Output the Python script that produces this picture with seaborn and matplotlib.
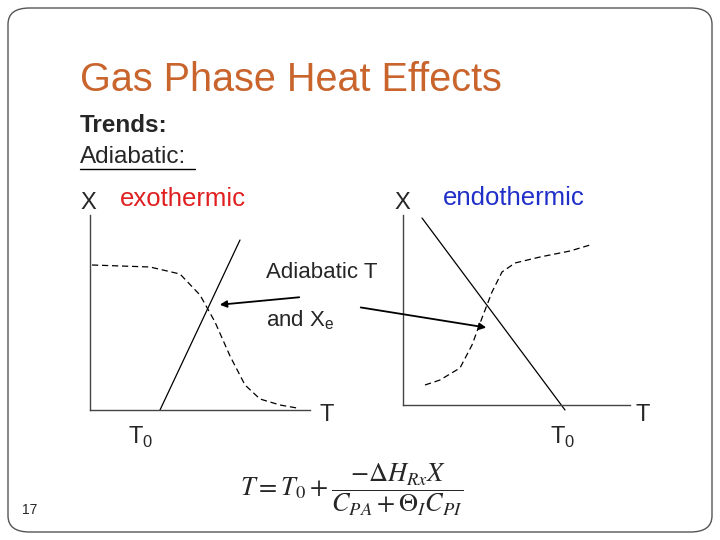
import matplotlib
matplotlib.use("Agg")
import matplotlib.pyplot as plt
import seaborn as sns
from matplotlib.patches import FancyBboxPatch

sns.set_style("white")
plt.rcParams['font.family'] = ['Liberation Sans', 'DejaVu Sans']

# data (pixel-like units)
exo_eq_x = [92, 150, 180, 200, 215, 230, 245, 260, 280, 297]
exo_eq_y = [265, 267, 274, 295, 322, 356, 385, 399, 405, 408]
exo_ad_x = [160, 240]
exo_ad_y = [410, 240]
endo_eq_x = [425, 440, 460, 472, 482, 492, 502, 515, 540, 570, 590]
endo_eq_y = [385, 380, 368, 345, 318, 292, 272, 263, 257, 251, 245]
endo_ad_x = [422, 565]
endo_ad_y = [218, 410]

W, H = 720, 540
fig = plt.figure(figsize=(7.2, 5.4), dpi=100)

def fx(x): return x / W
def fy(y): return 1 - y / H

fig.patches.append(FancyBboxPatch((fx(8), fy(532)), fx(704), 524 / H,
                                  boxstyle="round,pad=0,rounding_size=0.03",
                                  transform=fig.transFigure, fill=False,
                                  edgecolor="#555555", lw=1))

def make_ax(x0, x1, y0, y1):
    ax = fig.add_axes([fx(x0), fy(y1), fx(x1 - x0), (y1 - y0) / H])
    ax.set_xlim(x0, x1); ax.set_ylim(y1, y0)
    ax.set_xticks([]); ax.set_yticks([])
    for s in ["top", "right"]:
        ax.spines[s].set_visible(False)
    for s in ["left", "bottom"]:
        ax.spines[s].set_color("#444444"); ax.spines[s].set_linewidth(1.0)
    ax.patch.set_alpha(0)
    return ax

ax1 = make_ax(90, 310, 215, 410)
sns.lineplot(x=exo_eq_x, y=exo_eq_y, ax=ax1, color="black", lw=0.9, linestyle=(0, (5, 3)), sort=False)
sns.lineplot(x=exo_ad_x, y=exo_ad_y, ax=ax1, color="black", lw=0.9, sort=False)

ax2 = make_ax(403, 630, 215, 405)
sns.lineplot(x=endo_eq_x, y=endo_eq_y, ax=ax2, color="black", lw=0.9, linestyle=(0, (5, 3)), sort=False)
sns.lineplot(x=endo_ad_x, y=endo_ad_y, ax=ax2, color="black", lw=0.9, sort=False)
for ln in ax2.lines: ln.set_clip_on(False)

def t(x, y, s, **kw):
    fig.text(fx(x), fy(y), s, va="center", **kw)

t(80, 80, "Gas Phase Heat Effects", fontsize=28.5, color="#C8642C")
t(80, 125, "Trends:", fontsize=17.5, fontweight="bold")
t(80, 157, "Adiabatic:", fontsize=17.5)
fig.add_artist(plt.Line2D([fx(80), fx(195)], [fy(169), fy(169)], color="black", lw=1))
t(80, 203, "X", fontsize=17)
t(120, 199, "exothermic", fontsize=18.5, color="#E02020")
t(394, 203, "X", fontsize=17)
t(443, 198, "endothermic", fontsize=18.5, color="#1F2FC8")
t(266, 273, "Adiabatic T", fontsize=16)
t(266, 320, r"and X$_\mathregular{e}$", fontsize=16)
t(128, 437, r"T$_\mathregular{0}$", fontsize=17)
t(320, 415, "T", fontsize=17)
t(550, 437, r"T$_\mathregular{0}$", fontsize=17)
t(635, 415, "T", fontsize=17)
t(22, 510, "17", fontsize=10)
t(240, 490, r"$T = T_0 + \dfrac{-\Delta H_{Rx} X}{C_{PA} + \Theta_I C_{PI}}$",
  fontsize=19, math_fontfamily="stix")

fig.add_artist(plt.Annotation("", xy=(fx(217), fy(305)), xytext=(fx(302), fy(297)),
               xycoords="figure fraction", textcoords="figure fraction",
               arrowprops=dict(arrowstyle="-|>", color="black", lw=1.3)))
fig.add_artist(plt.Annotation("", xy=(fx(489), fy(328)), xytext=(fx(358), fy(307)),
               xycoords="figure fraction", textcoords="figure fraction",
               arrowprops=dict(arrowstyle="-|>", color="black", lw=1.3)))

fig.savefig("out.png", dpi=100)
